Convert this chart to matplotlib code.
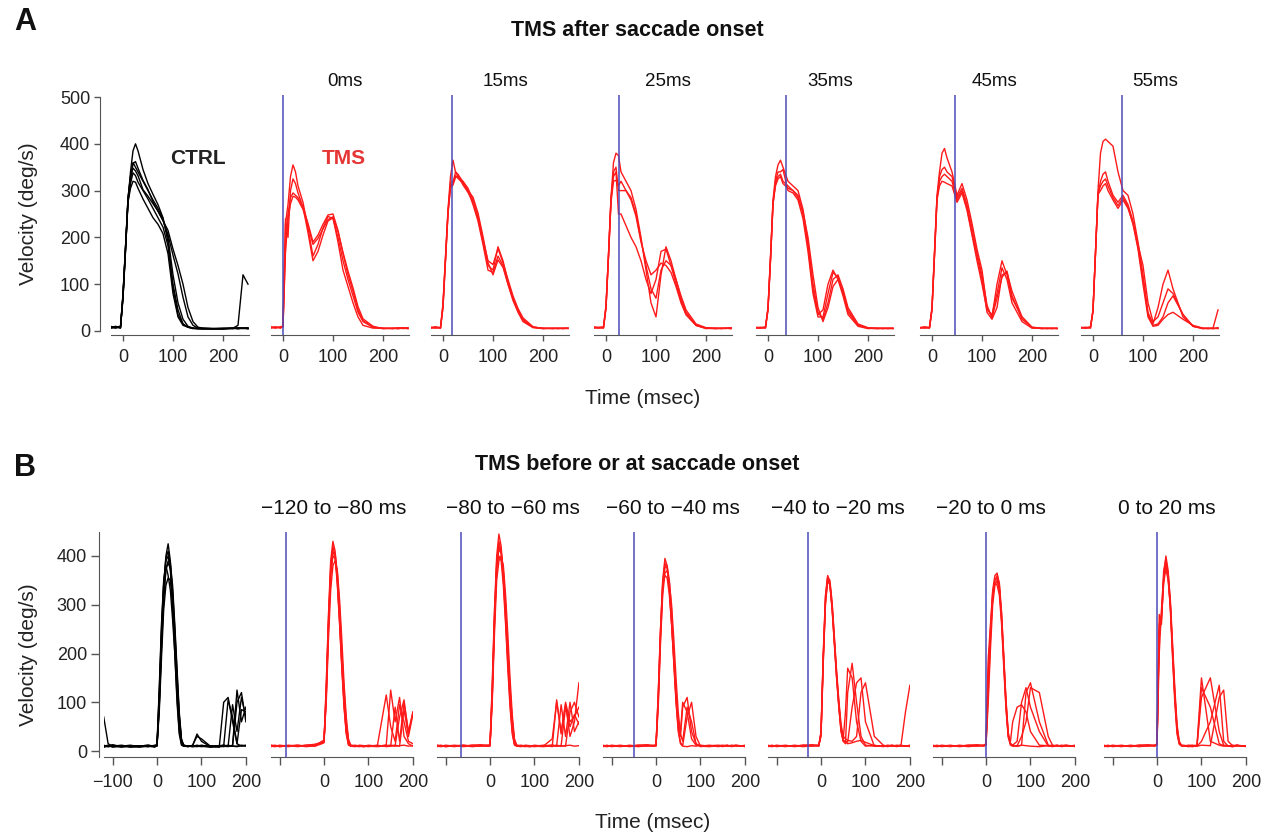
import matplotlib
matplotlib.use("Agg")
import matplotlib.pyplot as plt

plt.rcParams['font.family'] = ['Liberation Sans', 'DejaVu Sans']

# ---------------- data ----------------
# Row A: TMS after saccade onset (time grid in ms)
t_a = [-25, -15, -5, 0, 5, 10, 15, 20, 25, 30, 40, 50, 60, 70, 80, 90, 100,
       110, 120, 130, 140, 150, 160, 180, 200, 220, 230, 240, 250]
a_titles = ["0ms", "15ms", "25ms", "35ms", "45ms", "55ms"]
a_pulse = [0, 18, 26, 36, 46, 57]

a_ctrl = [
    [8, 6, 9, 80, 180, 285, 330, 360, 350, 340, 320, 300, 280, 262, 240, 200, 120, 60, 25, 10, 6, 5, 5, 4, 5, 5, 6, 5, 6],
    [6, 10, 7, 70, 170, 280, 340, 385, 400, 385, 345, 315, 292, 270, 242, 190, 100, 45, 15, 8, 6, 5, 6, 5, 4, 6, 5, 6, 5],
    [10, 7, 9, 75, 175, 275, 305, 320, 318, 305, 282, 262, 242, 228, 208, 165, 80, 30, 12, 8, 6, 5, 5, 5, 6, 5, 7, 6, 5],
    [7, 9, 6, 78, 178, 282, 330, 348, 342, 332, 302, 288, 272, 256, 236, 215, 175, 140, 100, 50, 20, 8, 6, 5, 5, 6, 5, 6, 7],
    [9, 8, 10, 72, 172, 276, 315, 338, 332, 318, 300, 282, 262, 242, 222, 182, 92, 35, 15, 8, 5, 5, 4, 5, 5, 6, 5, 6, 5],
    [6, 8, 7, 74, 176, 280, 322, 358, 362, 348, 322, 302, 276, 256, 236, 206, 162, 122, 72, 30, 12, 6, 5, 5, 5, 6, 12, 120, 100],
]
a_0ms = [
    [8, 6, 9, 10, 230, 270, 330, 355, 340, 310, 275, 220, 160, 185, 220, 245, 240, 200, 150, 110, 75, 40, 20, 8, 6, 5, 6, 7, 5],
    [7, 9, 6, 9, 180, 250, 285, 295, 290, 285, 265, 230, 190, 205, 228, 248, 250, 215, 165, 120, 85, 45, 22, 8, 5, 6, 5, 6, 7],
    [9, 7, 8, 11, 240, 200, 300, 325, 315, 295, 265, 210, 150, 170, 205, 235, 242, 190, 130, 95, 60, 30, 12, 6, 6, 5, 7, 5, 6],
    [6, 8, 7, 10, 170, 240, 272, 288, 286, 280, 260, 225, 185, 198, 218, 238, 244, 212, 168, 128, 92, 52, 26, 10, 5, 6, 5, 6, 5],
]
a_15ms = [
    [7, 8, 6, 60, 160, 260, 330, 365, 340, 330, 320, 305, 280, 240, 190, 140, 130, 180, 150, 105, 70, 45, 25, 8, 6, 5, 6, 5, 6],
    [6, 7, 8, 50, 150, 250, 310, 315, 340, 335, 318, 300, 270, 235, 185, 130, 125, 160, 140, 100, 65, 40, 20, 7, 5, 6, 5, 6, 5],
    [8, 6, 7, 55, 155, 255, 305, 312, 328, 332, 312, 296, 276, 246, 196, 150, 142, 176, 146, 110, 75, 48, 28, 9, 5, 6, 5, 6, 6],
    [7, 9, 6, 52, 152, 252, 318, 320, 332, 326, 316, 300, 286, 252, 202, 146, 120, 152, 136, 100, 68, 42, 22, 8, 6, 5, 6, 5, 6],
]
a_25ms = [
    [6, 8, 7, 55, 165, 285, 360, 380, 375, 340, 320, 300, 260, 200, 130, 60, 30, 120, 180, 150, 110, 70, 40, 12, 6, 5, 6, 5, 7],
    [8, 7, 9, 50, 160, 280, 340, 350, 300, 300, 300, 285, 250, 195, 140, 90, 70, 130, 150, 140, 110, 75, 45, 15, 7, 6, 5, 6, 5],
    [7, 6, 8, 52, 162, 282, 330, 340, 250, 250, 225, 200, 180, 150, 110, 80, 110, 170, 175, 140, 100, 65, 35, 12, 6, 5, 6, 6, 5],
    [9, 7, 6, 48, 158, 275, 320, 322, 310, 320, 300, 280, 245, 190, 150, 120, 130, 145, 140, 125, 95, 60, 35, 12, 5, 6, 5, 6, 7],
]
a_35ms = [
    [7, 6, 8, 50, 160, 280, 330, 355, 365, 350, 320, 310, 300, 260, 190, 100, 40, 25, 60, 110, 120, 90, 50, 15, 7, 6, 5, 6, 5],
    [8, 7, 6, 45, 150, 270, 320, 340, 340, 345, 300, 295, 280, 240, 170, 80, 30, 30, 80, 125, 115, 80, 40, 12, 6, 5, 6, 5, 6],
    [6, 8, 7, 48, 155, 275, 315, 330, 335, 320, 310, 300, 290, 250, 180, 90, 35, 45, 100, 130, 110, 75, 35, 10, 5, 6, 5, 6, 5],
    [7, 6, 9, 46, 152, 272, 310, 325, 330, 315, 305, 300, 285, 255, 200, 120, 50, 20, 50, 95, 110, 85, 45, 12, 6, 5, 6, 5, 6],
]
a_45ms = [
    [6, 8, 7, 50, 170, 290, 340, 380, 390, 370, 340, 290, 315, 280, 230, 175, 130, 50, 30, 100, 150, 120, 70, 30, 8, 6, 5, 6, 5],
    [7, 6, 8, 48, 165, 285, 320, 330, 335, 330, 320, 280, 300, 262, 210, 160, 110, 40, 25, 50, 120, 125, 85, 30, 7, 5, 6, 5, 6],
    [8, 7, 6, 45, 160, 280, 310, 320, 318, 315, 310, 275, 295, 258, 205, 150, 100, 45, 35, 80, 135, 110, 60, 20, 6, 6, 5, 6, 5],
    [6, 9, 7, 47, 162, 282, 330, 345, 350, 340, 330, 285, 305, 270, 220, 165, 120, 55, 28, 70, 115, 128, 75, 25, 8, 5, 6, 5, 6],
]
a_55ms = [
    [7, 6, 8, 45, 170, 300, 380, 405, 410, 405, 395, 340, 300, 290, 250, 190, 120, 40, 15, 50, 100, 130, 90, 30, 10, 5, 6, 5, 7],
    [6, 8, 7, 42, 165, 290, 320, 335, 340, 320, 290, 275, 290, 270, 235, 180, 110, 35, 12, 15, 30, 60, 75, 35, 10, 6, 5, 6, 5],
    [8, 7, 6, 44, 168, 295, 310, 320, 325, 310, 285, 268, 285, 265, 228, 175, 100, 30, 10, 12, 25, 35, 40, 25, 12, 6, 5, 6, 45],
    [7, 6, 9, 43, 166, 292, 300, 310, 315, 300, 280, 262, 280, 262, 230, 185, 140, 60, 20, 30, 60, 90, 80, 35, 10, 5, 6, 5, 6],
]

# Row B: TMS before or at saccade onset
t_b = [-120, -110, -100, -80, -60, -40, -20, -5, 0, 5, 10, 15, 20, 25, 30, 35, 40,
       45, 50, 55, 60, 70, 80, 90, 100, 120, 140, 150, 160, 170, 180, 190, 200]
b_titles = ["\u2212120 to \u221280 ms", "\u221280 to \u221260 ms", "\u221260 to \u221240 ms",
            "\u221240 to \u221220 ms", "\u221220 to 0 ms", "0 to 20 ms"]
b_pulse = [-86, -65, -50, -30, 0, 0]

b_ctrl = [
    [70, 15, 10, 8, 11, 9, 10, 8, 12, 110, 240, 340, 400, 425, 390, 320, 230, 140, 60, 20, 12, 10, 9, 11, 10, 8, 9, 10, 12, 10, 9, 11, 10],
    [12, 9, 11, 10, 8, 10, 9, 11, 10, 90, 210, 310, 370, 390, 385, 340, 260, 170, 80, 25, 10, 9, 12, 30, 25, 10, 8, 100, 110, 60, 15, 10, 12],
    [10, 12, 8, 11, 9, 10, 12, 9, 15, 130, 260, 350, 380, 360, 330, 270, 200, 110, 40, 15, 10, 11, 9, 10, 12, 9, 11, 10, 9, 12, 125, 60, 90],
    [9, 10, 12, 9, 10, 11, 9, 12, 11, 100, 230, 330, 390, 400, 370, 300, 220, 130, 50, 18, 11, 10, 10, 9, 11, 10, 9, 10, 105, 70, 15, 85, 80],
    [11, 9, 10, 12, 9, 8, 11, 10, 13, 80, 190, 290, 340, 355, 350, 310, 240, 150, 70, 22, 12, 9, 11, 10, 9, 11, 10, 9, 11, 10, 10, 12, 11],
    [10, 11, 9, 10, 12, 9, 10, 11, 12, 120, 250, 345, 395, 410, 380, 300, 200, 100, 35, 12, 10, 11, 10, 12, 10, 9, 10, 12, 10, 95, 40, 110, 70],
    [8, 10, 13, 9, 11, 10, 12, 10, 11, 95, 220, 320, 375, 385, 375, 330, 250, 160, 75, 24, 12, 10, 11, 35, 20, 9, 11, 12, 10, 11, 100, 120, 60],
]
b_m120 = [
    [10, 12, 9, 11, 10, 12, 14, 18, 20, 140, 280, 390, 430, 410, 350, 270, 180, 100, 40, 15, 10, 9, 11, 10, 12, 10, 12, 125, 60, 110, 30, 15, 10],
    [12, 10, 11, 9, 12, 10, 12, 16, 18, 110, 250, 360, 400, 395, 360, 290, 200, 120, 55, 20, 12, 10, 9, 11, 10, 12, 9, 10, 90, 20, 100, 40, 80],
    [9, 11, 10, 12, 9, 11, 10, 15, 17, 120, 260, 370, 410, 400, 340, 260, 170, 90, 35, 12, 10, 11, 10, 9, 11, 10, 10, 11, 12, 10, 85, 30, 75],
    [11, 10, 12, 10, 11, 9, 11, 20, 22, 100, 230, 330, 380, 390, 370, 310, 230, 140, 70, 25, 12, 10, 11, 10, 9, 11, 115, 50, 20, 95, 60, 20, 15],
    [10, 9, 11, 10, 10, 12, 13, 17, 19, 130, 270, 380, 420, 400, 345, 265, 175, 95, 38, 14, 11, 10, 12, 11, 10, 9, 11, 12, 10, 11, 12, 10, 11],
    [12, 11, 9, 11, 12, 10, 11, 18, 21, 115, 255, 365, 405, 405, 365, 295, 205, 125, 60, 20, 11, 12, 10, 9, 11, 10, 12, 10, 11, 70, 105, 35, 80],
]
b_m80 = [
    [10, 12, 9, 11, 10, 12, 11, 10, 12, 140, 290, 400, 445, 420, 360, 280, 190, 110, 45, 15, 10, 9, 11, 10, 12, 10, 25, 100, 40, 95, 30, 60, 140],
    [12, 10, 11, 9, 12, 10, 12, 11, 13, 110, 260, 370, 420, 410, 370, 300, 210, 130, 60, 20, 12, 10, 9, 11, 10, 12, 9, 105, 35, 100, 60, 70, 90],
    [9, 11, 10, 12, 9, 11, 10, 12, 10, 120, 270, 380, 400, 390, 340, 260, 170, 90, 35, 12, 10, 11, 10, 9, 11, 10, 10, 11, 95, 30, 100, 40, 60],
    [11, 10, 12, 10, 11, 9, 11, 10, 11, 100, 240, 350, 390, 400, 380, 320, 240, 150, 75, 25, 12, 10, 11, 10, 9, 11, 12, 10, 11, 90, 50, 75, 55],
    [10, 9, 11, 10, 10, 12, 13, 11, 12, 130, 280, 390, 430, 410, 350, 270, 180, 100, 40, 14, 11, 10, 12, 11, 10, 9, 11, 12, 10, 11, 12, 10, 11],
    [12, 11, 9, 11, 12, 10, 11, 12, 11, 115, 265, 375, 415, 405, 365, 295, 205, 125, 65, 22, 11, 12, 10, 9, 11, 10, 12, 10, 11, 10, 80, 100, 70],
]
b_m60 = [
    [10, 12, 9, 11, 10, 12, 11, 10, 12, 120, 250, 350, 395, 380, 330, 260, 180, 100, 40, 15, 10, 9, 11, 10, 12, 10, 11, 9, 12, 10, 11, 10, 12],
    [12, 10, 11, 9, 12, 10, 12, 11, 13, 100, 230, 330, 375, 380, 350, 290, 200, 120, 60, 30, 90, 110, 40, 15, 10, 12, 9, 11, 10, 12, 10, 11, 9],
    [9, 11, 10, 12, 9, 11, 10, 12, 10, 110, 240, 340, 360, 355, 320, 260, 190, 110, 50, 40, 100, 80, 25, 12, 11, 10, 10, 11, 12, 9, 11, 10, 10],
    [11, 10, 12, 10, 11, 9, 11, 10, 11, 90, 220, 320, 365, 370, 345, 300, 230, 150, 80, 35, 20, 90, 60, 15, 9, 11, 12, 10, 11, 10, 12, 11, 10],
    [10, 9, 11, 10, 10, 12, 13, 11, 12, 115, 245, 345, 385, 375, 335, 265, 185, 105, 45, 18, 11, 70, 100, 30, 10, 9, 11, 12, 10, 11, 12, 10, 11],
]
b_m40 = [
    [10, 12, 9, 11, 10, 12, 11, 12, 40, 200, 320, 360, 340, 290, 220, 150, 90, 40, 20, 15, 120, 180, 100, 30, 12, 10, 11, 9, 12, 10, 11, 10, 12],
    [12, 10, 11, 9, 12, 10, 12, 11, 35, 190, 310, 355, 345, 300, 230, 160, 100, 50, 25, 80, 170, 150, 60, 20, 10, 12, 9, 11, 10, 12, 10, 11, 9],
    [9, 11, 10, 12, 9, 11, 10, 12, 30, 180, 300, 350, 340, 295, 225, 155, 95, 45, 22, 20, 18, 90, 140, 150, 60, 10, 10, 11, 12, 9, 11, 10, 10],
    [11, 10, 12, 10, 11, 9, 11, 10, 38, 195, 315, 358, 350, 305, 235, 165, 105, 55, 30, 25, 22, 20, 30, 120, 140, 30, 12, 10, 11, 10, 12, 80, 135],
    [10, 9, 11, 10, 10, 12, 13, 11, 36, 185, 305, 352, 342, 292, 222, 152, 92, 42, 20, 18, 15, 17, 20, 22, 18, 11, 10, 12, 10, 11, 12, 10, 11],
]
b_m20 = [
    [10, 12, 9, 11, 10, 12, 11, 12, 15, 190, 260, 330, 360, 365, 340, 270, 180, 90, 30, 20, 60, 90, 95, 80, 40, 12, 11, 9, 12, 10, 11, 10, 12],
    [12, 10, 11, 9, 12, 10, 12, 11, 14, 120, 230, 320, 350, 355, 335, 280, 190, 100, 35, 15, 12, 20, 100, 130, 90, 40, 10, 11, 10, 12, 10, 11, 9],
    [9, 11, 10, 12, 9, 11, 10, 12, 13, 150, 250, 325, 345, 340, 320, 260, 170, 85, 28, 12, 10, 11, 30, 60, 130, 120, 30, 11, 12, 9, 11, 10, 10],
    [11, 10, 12, 10, 11, 9, 11, 10, 12, 100, 210, 300, 340, 350, 330, 270, 185, 95, 32, 14, 11, 10, 12, 120, 140, 60, 12, 10, 11, 10, 12, 11, 10],
    [10, 9, 11, 10, 10, 12, 13, 11, 14, 170, 240, 315, 350, 360, 345, 285, 195, 105, 38, 16, 11, 10, 12, 11, 10, 9, 11, 12, 10, 11, 12, 10, 11],
]
b_0 = [
    [10, 12, 9, 11, 10, 12, 11, 12, 14, 280, 260, 360, 400, 370, 300, 200, 110, 40, 15, 10, 11, 9, 10, 12, 150, 20, 12, 10, 11, 9, 12, 10, 11],
    [12, 10, 11, 9, 12, 10, 12, 11, 13, 240, 270, 350, 385, 365, 310, 220, 130, 55, 20, 12, 10, 11, 12, 11, 130, 90, 15, 11, 10, 12, 10, 11, 9],
    [9, 11, 10, 12, 9, 11, 10, 12, 15, 260, 280, 370, 395, 360, 290, 190, 100, 35, 14, 11, 10, 12, 11, 10, 20, 60, 135, 20, 10, 9, 11, 10, 10],
    [11, 10, 12, 10, 11, 9, 11, 10, 12, 200, 290, 355, 380, 355, 295, 205, 115, 45, 18, 12, 11, 10, 9, 11, 110, 150, 40, 12, 11, 10, 12, 11, 10],
    [10, 9, 11, 10, 10, 12, 13, 11, 14, 250, 275, 345, 375, 350, 300, 210, 120, 50, 16, 11, 12, 10, 11, 10, 12, 11, 110, 125, 20, 11, 12, 10, 11],
]

# ---------------- figure ----------------
W, H = 1269, 835
fig = plt.figure(figsize=(W / 100, H / 100), dpi=100)

RED = "#ff1a1a"
BLUE = "#4a4ab8"
AXC = "#555555"


def panel(left, top, right, bottom):
    return fig.add_axes([left / W, 1 - bottom / H, (right - left) / W, (bottom - top) / H])


def style(ax, show_y, y_out, tick_len, x_pad):
    ax.spines["top"].set_visible(False)
    ax.spines["right"].set_visible(False)
    ax.spines["bottom"].set_color(AXC)
    ax.spines["left"].set_color(AXC)
    ax.tick_params(direction="out", length=tick_len, width=1, color=AXC,
                   labelsize=13, labelcolor="#222222", pad=3)
    ax.tick_params(axis="x", pad=x_pad)
    if show_y:
        ax.spines["left"].set_position(("outward", y_out))
    else:
        ax.spines["left"].set_visible(False)
        ax.tick_params(axis="y", left=False, labelleft=False)


def fig_text(x, y, s, **kw):
    fig.text(x / W, 1 - y / H, s, ha="center", va="center", **kw)


# Row A
a_zero = [123, 283, 443, 606, 768, 932, 1093]
a_data = [a_ctrl, a_0ms, a_15ms, a_25ms, a_35ms, a_45ms, a_55ms]
for i, (x0, traces) in enumerate(zip(a_zero, a_data)):
    ax = panel(x0 - 12.5, 94.7, x0 + 126, 334.7)
    col = "black" if i == 0 else RED
    for tr in traces:
        ax.plot(t_a, tr, color=col, lw=1.0)
    ax.set_xlim(-25, 252)
    ax.set_ylim(-8, 505)
    ax.set_xticks([0, 100, 200])
    style(ax, i == 0, 7.5, 4, 6)
    if i == 0:
        ax.set_yticks([0, 100, 200, 300, 400, 500])
        ax.spines["left"].set_bounds(0, 500)
    else:
        ax.axvline(a_pulse[i - 1], color=BLUE, lw=1.1, zorder=5)
        fig_text(x0 + 62, 82, a_titles[i - 1], fontsize=13.5, color="#111111")

# Row B
b_zero = [157, 324, 490, 656, 821, 986, 1157]
b_data = [b_ctrl, b_m120, b_m80, b_m60, b_m40, b_m20, b_0]
b_title_x = [334, 513, 673, 838, 991, 1167]
for i, (x0, traces) in enumerate(zip(b_zero, b_data)):
    ax = panel(x0 - 53.3, 531.6, x0 + 88.9, 756.9)
    col = "black" if i == 0 else RED
    for tr in traces:
        ax.plot(t_b, tr, color=col, lw=1.0)
    ax.set_xlim(-120, 200)
    ax.set_ylim(-12, 450)
    ax.set_xticks([-100, 0, 100, 200])
    style(ax, i == 0, 3.5, 5.5, 7)
    if i == 0:
        ax.set_xticklabels(["\u2212100", "0", "100", "200"])
        ax.set_yticks([0, 100, 200, 300, 400])
    else:
        ax.set_xticklabels(["", "0", "100", "200"])
        ax.axvline(b_pulse[i - 1], color=BLUE, lw=1.1, zorder=5)
        fig_text(b_title_x[i - 1], 508, b_titles[i - 1], fontsize=15, color="#111111")

# labels and headings
fig_text(25, 22, "A", fontsize=22, fontweight="bold", color="#111111")
fig_text(25, 468, "B", fontsize=22, fontweight="bold", color="#111111")
fig_text(637, 30, "TMS after saccade onset", fontsize=15.5, fontweight="bold", color="#111111")
fig_text(637, 465, "TMS before or at saccade onset", fontsize=15.5, fontweight="bold", color="#111111")
fig_text(198, 158, "CTRL", fontsize=15, fontweight="bold", color="#222222")
fig_text(344, 158, "TMS", fontsize=15, fontweight="bold", color="#e53535")
fig_text(28, 214, "Velocity (deg/s)", fontsize=15, rotation=90, color="#222222")
fig_text(28, 655, "Velocity (deg/s)", fontsize=15, rotation=90, color="#222222")
fig_text(643, 399, "Time (msec)", fontsize=15, color="#222222")
fig_text(653, 822, "Time (msec)", fontsize=15, color="#222222")

fig.savefig("out.png", dpi=100)
